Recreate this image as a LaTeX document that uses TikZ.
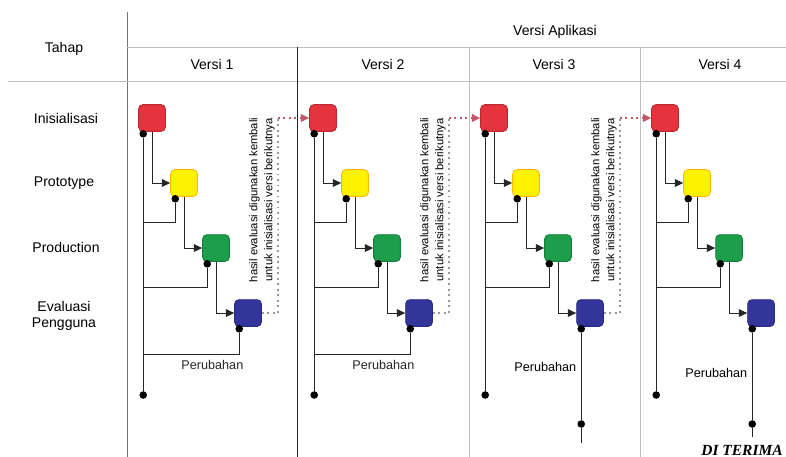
\documentclass[tikz,border=0pt]{standalone}
\usepackage{fontspec}
\setmainfont{Liberation Sans}
\newfontfamily\stampfont{Liberation Serif}
\usetikzlibrary{positioning}
\usetikzlibrary{arrows.meta}
\definecolor{boxred}{HTML}{E5343D}
\definecolor{boxyellow}{HTML}{FFF200}
\definecolor{boxgreen}{HTML}{1C9E4B}
\definecolor{boxblue}{HTML}{33359B}
\definecolor{feedred}{HTML}{C2586A}

\begin{document}
\begin{tikzpicture}[x=0.025cm, y=-0.025cm, >={Triangle[length=6pt,width=5.5pt]},
  node distance=1.625cm and 0.8cm, on grid,
  font=\fontsize{10}{12}\selectfont,
  stage/.style={rounded corners=3pt, minimum size=19pt, line width=0.6pt},
  bullet/.style={circle, fill=black, inner sep=0pt, minimum size=5.4pt},
  link/.style={black!85, line width=0.7pt},
  tableline/.style={black!25, line width=0.6pt},
  feedback/.style={dash pattern=on 1.3pt off 2.6pt, line width=1.2pt},
  note/.style={rotate=90, align=center, font=\fontsize{8}{10.6}\selectfont},
  change/.style={font=\fontsize{9}{11}\selectfont}]
\useasboundingbox (0,0) rectangle (786,457);

% table
\draw[black!55, line width=0.6pt] (127,12) -- (127,457);
\draw[tableline] (127,47) -- (786,47);
\draw[tableline] (8,81) -- (786,81);
\draw[black!85, line width=0.7pt] (297,47) -- (297,457);
\draw[tableline] (469,47) -- (469,457) (640,47) -- (640,457);

\node (tahap) at (64,49) {Tahap};
\node (aplikasi) at (555,32) {Versi Aplikasi};
\foreach \v/\x in {1/212,2/383,3/554,4/720}
  \node (v\v) at (\x,64) {Versi \v};
\node (ini) at (66,118) {Inisialisasi};
\node (pro) at (64,183) {Prototype};
\node (prod) at (66,247) {Production};
\node[align=center, font=\fontsize{10}{11}\selectfont] (eval) at (64,316) {Evaluasi\\Pengguna};

% one cascade per version
\foreach \v in {1,...,4} {
  \node[stage, fill=boxred, draw=boxred!80!black] (r\v) at ({152+171*(\v-1)},118) {};
  \node[stage, fill=boxyellow, draw=orange!55!yellow] (y\v) [below right=of r\v] {};
  \node[stage, fill=boxgreen, draw=boxgreen!80!black] (g\v) [below right=of y\v] {};
  \node[stage, fill=boxblue, draw=boxblue!80!black] (b\v) [below right=of g\v] {};
  \node[bullet] (rd\v) at ([shift={(5,2)}]r\v.south west) {};
  \node[bullet] (yd\v) at ([shift={(5,2)}]y\v.south west) {};
  \node[bullet] (gd\v) at ([shift={(5,2)}]g\v.south west) {};
  \node[bullet] (bd\v) at ([shift={(5,2)}]b\v.south west) {};
  \node[bullet] (e\v) at (rd\v |- 0,395) {};
  \draw[link] (yd\v) -- ++(0,24) -| (rd\v);
  \draw[link] (gd\v) -- ++(0,24) -| (rd\v);
  \draw[link] (rd\v) -- (e\v);
  \draw[link, ->] (r\v.south) |- (y\v.west);
  \draw[link, ->] (y\v.south) |- (g\v.west);
  \draw[link, ->] (g\v.south) |- (b\v.west);
}

% evaluation fed back into the next version
\foreach \v/\n in {1/2,2/3,3/4} {
  \draw[feedback, black!40] (b\v.east) -- ++(16,0) coordinate (c\v) -- (c\v |- r\v);
  \draw[feedback, feedred, ->] (c\v |- r\v) -- (r\n.west);
  \node[note] (h\v) at ({262+171*(\v-1)},200)
    {hasil evaluasi digunakan kembali\\untuk inisialisasi versi berikutnya};
}

% changes go back to the start
\foreach \v in {1,2}
  \draw[link] (bd\v) -- ++(0,26) -| node[change, pos=0.14, below] (p\v) {Perubahan} (rd\v);

% last steps go on
\foreach \v/\t in {3/443,4/437} {
  \node[bullet] (f\v) at (bd\v |- 0,424) {};
  \draw[link] (bd\v) -- (f\v);
  \draw[link] (f\v) -- (bd\v |- 0,\t);
}
\node[change, anchor=east] (p3) at (bd3 |- 0,367) {Perubahan};
\node[change, anchor=east] (p4) at (bd4 |- 0,373) {Perubahan};
\node (ok) at (742,450) {\stampfont\fontsize{11}{13}\selectfont\bfseries\itshape DI TERIMA};
\end{tikzpicture}
\end{document}
